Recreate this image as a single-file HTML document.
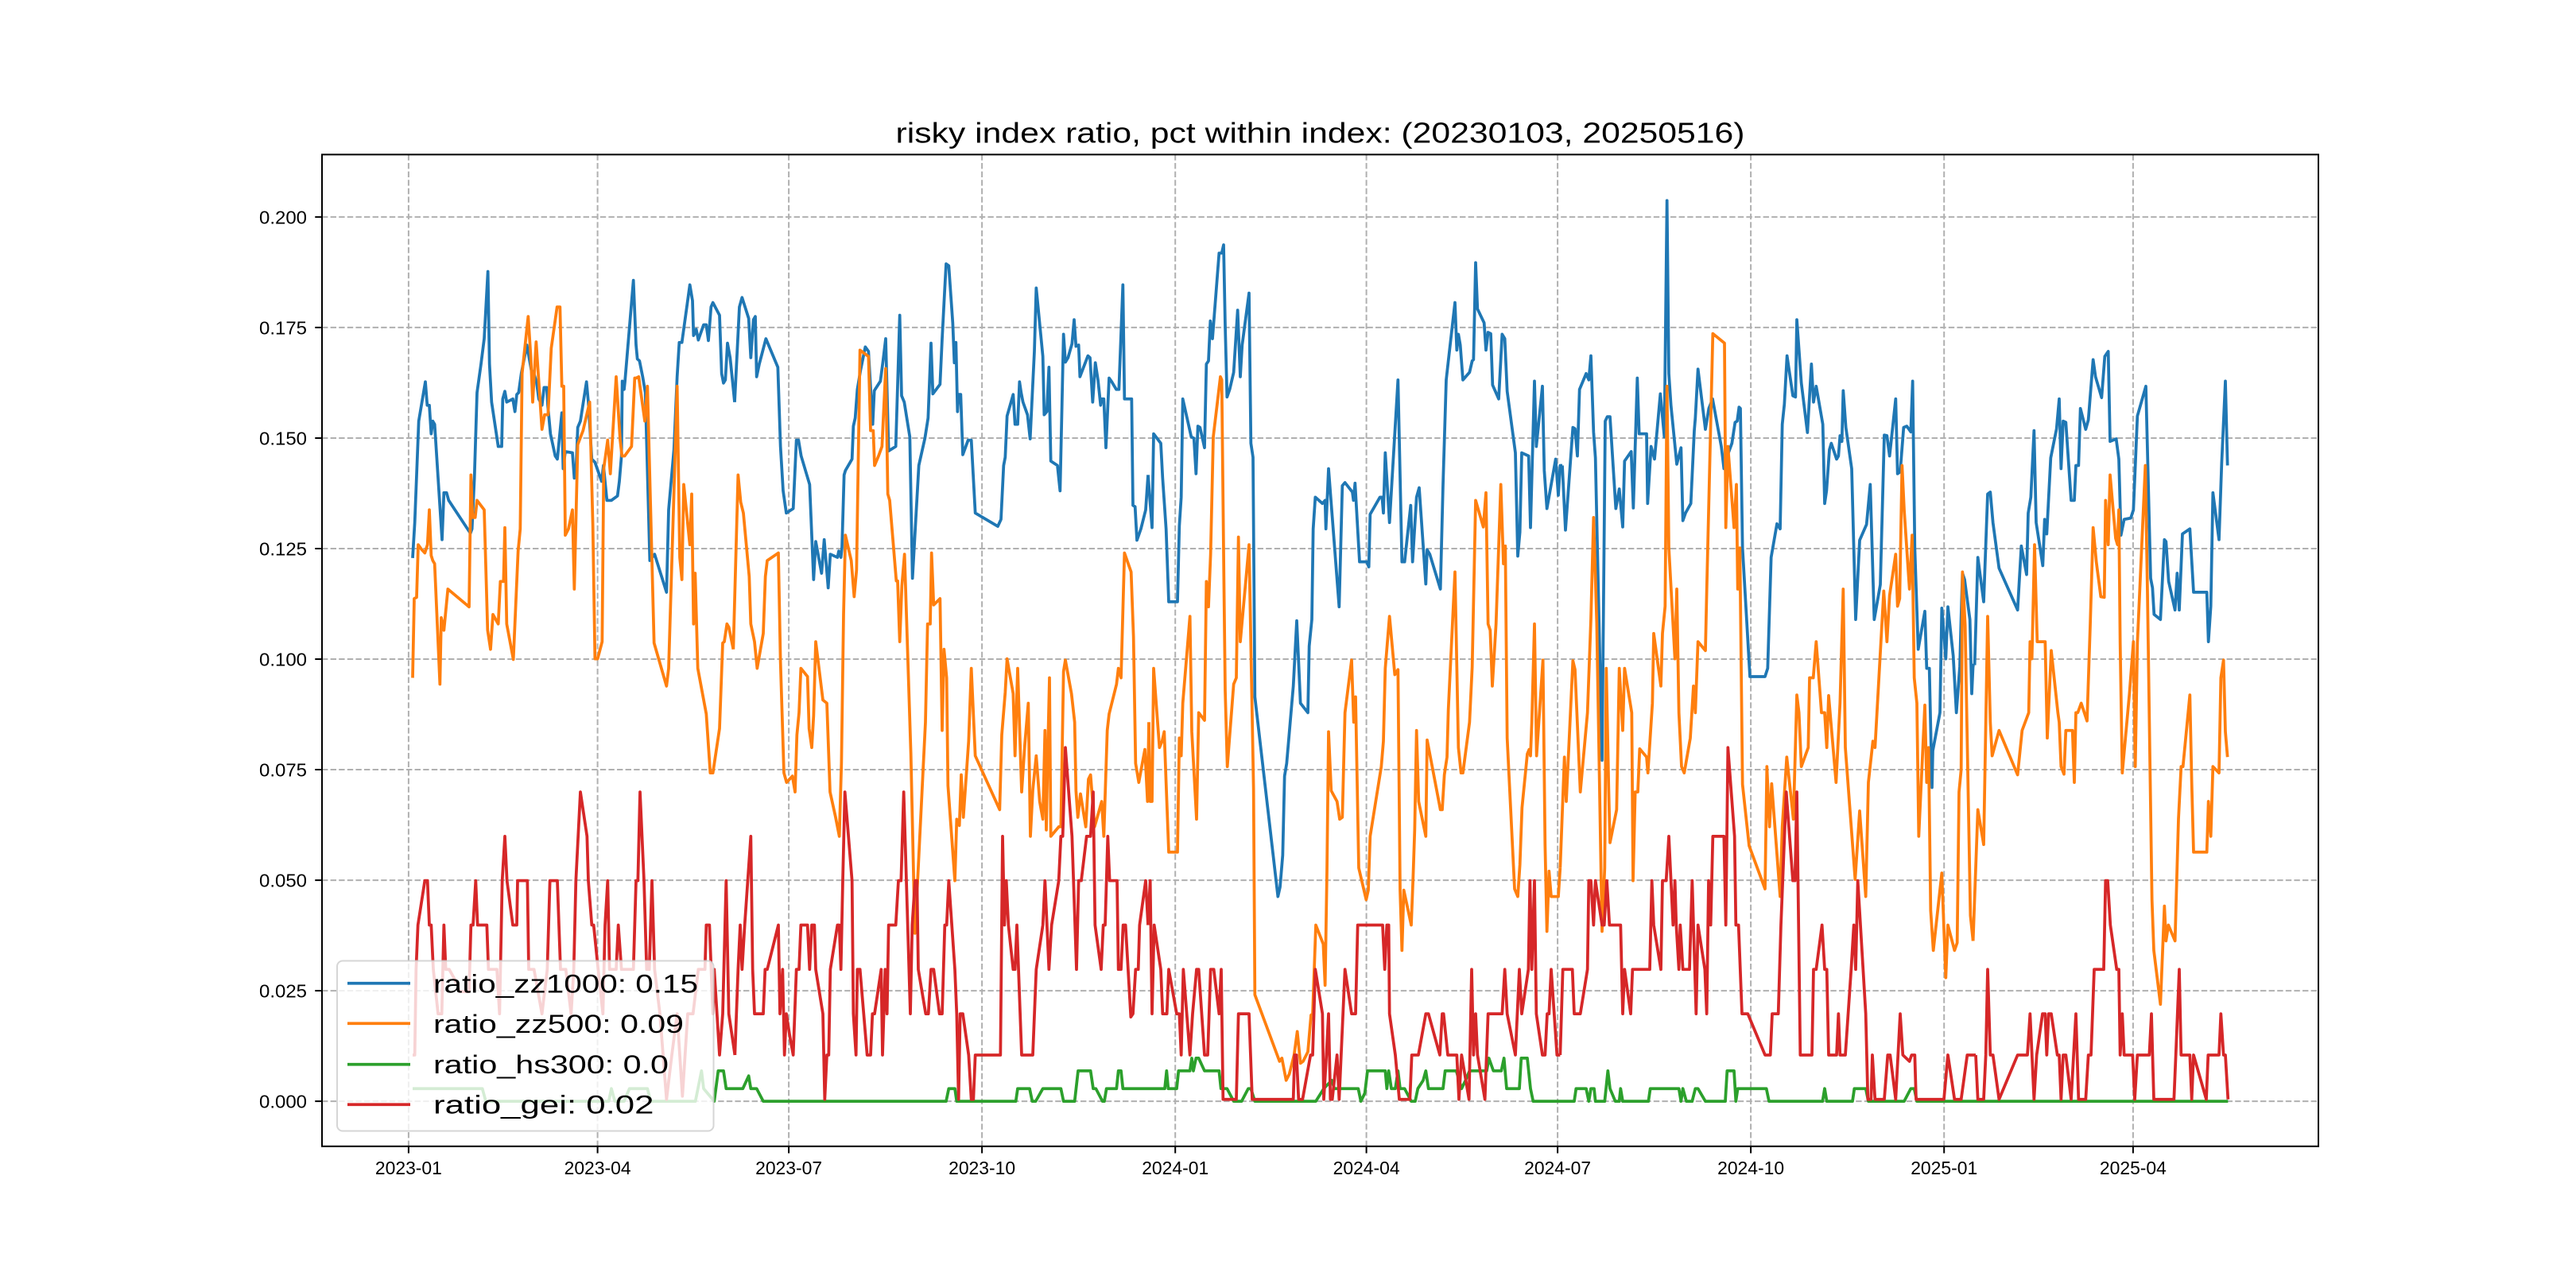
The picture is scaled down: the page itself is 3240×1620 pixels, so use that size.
<!DOCTYPE html>
<html>
<head>
<meta charset="utf-8">
<style>
html,body{margin:0;padding:0;background:#fff;}
svg{display:block;}
.d polyline{vector-effect:non-scaling-stroke;fill:none;stroke-width:3.75;stroke-linejoin:round;stroke-linecap:butt;}
text{font-family:"Liberation Sans","Noto Sans CJK SC",sans-serif;fill:#000;}
</style>
</head>
<body>
<svg width="3240" height="1620" viewBox="0 0 3240 1620" xmlns="http://www.w3.org/2000/svg">
<rect x="0" y="0" width="3240" height="1620" fill="#fff"/>

<!-- grid -->
<g stroke="#b0b0b0" stroke-width="2" stroke-dasharray="7.4 3.2" fill="none">
<line x1="405" y1="1385.1" x2="2916" y2="1385.1"/>
<line x1="405" y1="1246.1" x2="2916" y2="1246.1"/>
<line x1="405" y1="1107.1" x2="2916" y2="1107.1"/>
<line x1="405" y1="968.0" x2="2916" y2="968.0"/>
<line x1="405" y1="829.0" x2="2916" y2="829.0"/>
<line x1="405" y1="690.0" x2="2916" y2="690.0"/>
<line x1="405" y1="551.0" x2="2916" y2="551.0"/>
<line x1="405" y1="411.9" x2="2916" y2="411.9"/>
<line x1="405" y1="272.9" x2="2916" y2="272.9"/>
<line x1="513.9" y1="194.4" x2="513.9" y2="1441.8"/>
<line x1="751.6" y1="194.4" x2="751.6" y2="1441.8"/>
<line x1="992.1" y1="194.4" x2="992.1" y2="1441.8"/>
<line x1="1235.1" y1="194.4" x2="1235.1" y2="1441.8"/>
<line x1="1478.2" y1="194.4" x2="1478.2" y2="1441.8"/>
<line x1="1718.6" y1="194.4" x2="1718.6" y2="1441.8"/>
<line x1="1959.1" y1="194.4" x2="1959.1" y2="1441.8"/>
<line x1="2202.1" y1="194.4" x2="2202.1" y2="1441.8"/>
<line x1="2445.2" y1="194.4" x2="2445.2" y2="1441.8"/>
<line x1="2682.9" y1="194.4" x2="2682.9" y2="1441.8"/>
</g>

<!-- data -->
<g class="d" transform="translate(405 194.8) scale(0.333333 0.79728)">
<!-- blue zz1000 -->
<g stroke="#1f77b4">
<polyline points="342,636 350,580 365,420 390,358 397,395 405,395 412,440 418,420 425,425 453,607 460,533 470,533 478,545 560,597 566,590 575,510 585,375 600,330 612,290 626,184 632,330 640,390 665,460 678,460 682,385 690,373 697,390 720,385 728,405 735,378 742,375 752,345 773,300 790,340 800,345 810,360 818,385 830,395 838,367 848,367 852,395 862,440 880,475 888,480 895,450 905,407 910,495 918,468 945,470 952,510 958,505 965,430 975,420 998,358 1005,390 1018,480 1030,485 1055,515 1062,490 1075,545 1092,545 1115,538 1122,515 1130,475 1133,357 1140,370 1143,358 1175,198 1185,300 1190,322 1198,325 1210,350 1220,375 1237,640 1255,630 1300,690 1308,560 1328,465 1340,350 1348,296 1358,296 1388,205 1398,230 1402,285 1408,280 1412,275 1420,292 1440,268 1450,268 1458,293 1468,240 1475,233 1500,253 1508,345 1515,360 1522,355 1530,297 1540,320 1557,390"/>
<g transform="translate(1560 0)"><polyline points="-3,390 15,240 25,225 50,258 58,320 68,260 75,255 80,350 90,330 115,290 160,335 170,460 180,530 192,565 218,558 230,450 238,450 248,475 280,520 295,670 303,610 325,660 335,607 350,683 358,630 385,635 390,625 398,635 402,620 410,505 415,498 440,480 445,428 452,415 460,370 472,340 490,303 502,310 518,425 524,372 547,357 557,325 567,290 578,467 605,460 620,253 627,380 637,390 658,445 668,668 692,490 715,447 727,415 738,297 745,377 772,362 780,290 790,210 795,172 805,175 820,265 826,328 832,296 838,405 842,378 850,378 858,473 878,450 890,450 905,565 990,586 1002,575 1012,490 1018,477 1025,412 1048,378 1055,425 1065,425 1072,358 1078,375 1085,390 1102,410 1112,448 1128,310 1135,210 1160,318 1165,410 1175,405 1183,335 1190,483 1215,490 1225,530 1238,283 1245,327 1255,320 1270,298 1278,260 1285,302 1295,300 1300,350 1330,317 1338,320 1348,390 1358,328 1368,355 1378,395 1382,385 1390,385 1398,462 1410,352 1420,358 1437,370 1447,370 1462,205 1468,385 1495,385 1500,553 1508,555 1515,608 1530,590 1548,560 1557,505"/></g>
<g transform="translate(3120 0)"><polyline points="-3,505 12,588 18,440 45,455 52,510 65,590 75,705 108,705 115,585 122,540 128,385 160,445 170,447 178,503 185,428 193,430 210,462 217,330 225,325 232,262 240,290 265,155 275,155 282,142 288,270 295,382 305,370 320,343 335,245 345,350 352,300 378,218 385,455 393,477 400,855 487,1170 495,1155 505,1105 512,980 520,960 545,838 558,735 572,865 600,880 605,775 615,733 620,590 628,540 655,550 665,545 668,590 678,495 718,713 730,522 740,517 768,532 772,545 778,518 795,642 822,642 830,650 835,567 872,540 880,540 885,565 892,470 908,580 940,355 955,642 965,642 988,553 995,642 1010,540 1020,525 1045,677 1050,623 1060,630 1100,685 1110,520 1122,355 1130,325 1155,233 1162,308 1168,283 1175,300 1185,355 1210,343 1220,325 1225,323 1233,170 1240,243 1265,265 1272,308 1280,280 1290,282 1297,363 1320,385 1333,283 1343,290 1352,373 1383,470 1392,633 1400,595 1407,470 1433,475 1440,588 1455,357 1462,460 1485,365 1492,498 1502,558 1535,480 1545,537 1552,490 1560,490"/></g>
<g transform="translate(4680 0)"><polyline points="0,490 12,592 40,430 48,432 57,475 65,370 90,345 100,355 108,317 118,437 125,478 150,955 162,420 170,413 180,413 202,558 215,527 228,587 235,483 260,468 268,557 283,352 290,440 318,440 322,550 335,460 348,480 370,377 385,445 395,72 402,345 410,395 432,488 448,462 455,577 465,565 485,550 498,435 502,415 512,338 540,433 553,400 567,385 600,460 610,495 620,478 640,455 652,422 660,420 667,398 672,400 680,620 708,823 765,823 775,810 788,635 810,582 822,590 830,425 838,393 848,317 870,380 880,382 885,260 902,360 925,438 940,330 948,390 958,365 983,425 990,550 997,530 1008,465 1015,455 1035,480 1042,475 1048,443 1055,452 1060,372 1070,430 1092,495 1107,733 1122,608 1148,583 1162,520 1177,733 1200,678 1215,442 1225,443 1235,475 1258,385 1265,503 1275,500 1288,430 1300,428 1315,437 1322,357 1330,620 1343,780 1368,720 1375,810 1385,810 1395,998 1398,940 1425,880 1432,715 1440,755 1447,795 1455,713 1475,790 1487,880 1500,807 1505,730 1510,660 1518,670 1538,733 1545,850 1550,805 1556,805"/></g>
<g transform="translate(6240 0)"><polyline points="-4,805 8,635 30,705 45,535 55,532 65,580 88,652 158,718 172,617 192,662 198,565 208,540 220,435 228,580 253,648 260,575 268,598 283,478 305,432 315,385 322,495 330,420 340,422 360,545 372,545 378,490 388,490 395,400 415,433 425,418 443,323 452,350 475,383 487,318 500,310 507,452 530,448 540,480 548,600 560,575 585,573 595,560 610,412 642,365 660,668 667,683 673,725 697,733 712,607 718,610 728,673 752,718 760,660 768,718 780,598 808,590 822,690 872,690 878,768 887,712 895,533 918,607 928,487 942,357 950,490"/></g>
</g>

<!-- orange zz500 -->
<g stroke="#ff7f0e">
<polyline points="342,825 348,700 357,698 363,615 375,622 388,628 398,615 405,560 412,632 418,640 425,645 445,835 450,730 460,750 475,685 555,713 562,505 568,572 578,572 585,545 612,560 625,750 636,780 645,725 665,740 673,673 685,673 690,588 697,740 722,796 740,625 748,590 755,345 778,255 788,320 795,390 808,295 830,433 840,410 853,410 865,305 887,240 898,240 905,365 912,365 918,600 930,590 945,560 952,685 965,457 985,435 1010,390 1022,585 1030,795 1040,795 1057,768 1063,495 1078,450 1088,503 1110,350 1125,450 1132,475 1142,475 1168,460 1180,352 1186,352 1195,350 1218,420 1228,365 1253,770 1300,838 1308,810 1340,365 1350,635 1358,670 1365,520 1388,615 1395,535 1402,740 1408,660 1418,810 1450,882 1465,975 1475,975 1500,905 1512,770 1518,768 1528,740 1535,745 1552,780"/>
<g transform="translate(1560 0)"><polyline points="-8,780 10,505 20,548 30,565 52,665 58,740 72,768 82,810 105,755 113,665 120,640 162,628 170,800 183,975 193,990 215,980 225,1005 232,915 240,880 247,810 272,823 278,905 288,935 295,885 303,768 330,860 345,865 357,1005 378,1045 392,1075 400,960 408,725 415,600 437,640 448,697 457,655 470,308 502,318 510,435 520,435 525,490 540,475 553,460 567,337 575,535 582,545 607,672 612,672 620,768 628,680 638,630 662,945 677,1228 688,1140 717,895 725,740 735,740 740,628 748,710 772,700 780,908 787,780 797,825 802,995 828,1145 835,1048 845,1058 852,978 860,1045 880,925 890,810 905,948 997,1033 1005,915 1018,848 1025,795 1048,850 1055,948 1065,810 1080,1005 1092,930 1105,865 1113,1075 1122,1002 1135,948 1148,1020 1160,1048 1168,908 1173,1065 1178,955 1185,825 1190,1075 1220,1060 1228,1060 1238,815 1245,797 1268,850 1280,895 1285,1003 1292,1045 1302,1008 1322,1060 1332,985 1340,978 1355,1060 1362,1050 1382,1020 1390,1075 1403,908 1410,882 1438,835 1445,810 1455,825 1468,628 1493,658 1502,760 1510,960 1522,990 1545,938 1555,1020 1560,895"/></g>
<g transform="translate(3120 0)"><polyline points="0,895 5,1020 12,1020 18,810 40,935 50,925 58,910 65,990 75,1100 108,1100 115,920 122,948 128,865 155,728 162,910 180,1048 188,880 210,892 217,673 225,713 233,630 243,445 270,350 275,355 283,665 288,845 296,965 320,835 330,825 338,603 345,768 378,615 387,820 395,1000 400,1325 493,1430 502,1425 518,1460 530,1450 548,1420 560,1383 572,1433 582,1430 600,1415 612,1357 618,1355 630,1215 658,1245 665,1310 672,1130 678,910 688,1003 710,1020 720,1048 730,1045 740,880 765,797 773,895 780,855 792,1125 820,1175 828,1160 835,1075 877,965 885,925 892,810 908,728 928,820 940,812 948,1160 955,1255 962,1160 990,1215 997,1140 1003,1065 1010,908 1018,1020 1045,1075 1050,923 1100,1033 1107,1033 1115,978 1125,950 1130,875 1155,658 1168,935 1178,975 1185,975 1210,895 1220,808 1233,545 1262,587 1272,533 1280,740 1288,750 1296,838 1310,740 1328,520 1338,645 1345,617 1352,920 1380,1158 1392,1170 1400,1120 1408,1030 1428,945 1435,938 1440,948 1445,895 1455,740 1463,948 1487,797 1495,1088 1502,1225 1510,1130 1518,1170 1545,1170 1552,1125"/></g>
<g transform="translate(4680 0)"><polyline points="-8,1125 8,950 15,1020 40,798 48,812 68,1005 95,880 108,732 118,572 130,738 150,1225 160,1125 166,810 175,1000 180,1085 205,1033 215,810 228,908 235,810 262,880 267,1145 275,1005 285,1005 292,937 318,950 323,975 340,865 345,755 372,838 378,755 388,712 395,365 402,620 425,795 432,685 440,880 450,965 460,975 483,920 495,838 502,880 512,768 540,782 545,688 568,282 612,297 617,588 625,460 648,588 657,520 662,685 668,685 670,620 680,993 705,1090 765,1158 772,965 782,1060 790,992 822,1170 830,1060 847,950 872,1048 885,852 893,880 902,965 928,935 933,825 947,825 958,768 978,880 990,880 998,935 1005,853 1033,990 1048,865 1060,685 1068,935 1105,1143 1122,1035 1145,1170 1155,990 1172,925 1180,935 1213,688 1225,768 1235,695 1258,630 1265,712 1273,700 1282,490 1290,560 1310,685 1320,600 1328,825 1338,865 1345,1075 1368,868 1375,990 1382,935 1390,1192 1400,1255 1432,1133 1447,1298 1455,1215 1480,1255 1490,1243 1497,1005 1505,970 1510,658 1520,742 1540,1200 1550,1240"/></g>
<g transform="translate(6240 0)"><polyline points="-10,1240 8,1033 30,1088 45,728 55,895 62,948 88,908 158,978 175,908 200,880 205,768 212,795 222,615 232,768 262,768 270,920 285,782 310,880 315,895 322,965 333,977 340,908 365,908 372,990 378,880 385,880 398,865 420,893 432,742 443,588 455,642 472,697 485,698 490,545 500,615 507,505 528,605 535,615 540,560 545,770 553,975 580,850 595,768 602,965 610,770 640,490 648,690 665,1175 672,1255 697,1340 712,1185 718,1240 727,1215 752,1240 765,1048 775,965 782,965 808,852 815,990 822,1100 872,1100 878,1020 887,1075 895,965 918,975 925,825 935,797 942,910 950,950"/></g>
</g>

<!-- green hs300 -->
<g stroke="#2ca02c">
<polyline points="342,1473 605,1473 618,1493 1082,1493 1092,1473 1105,1493 1140,1493 1160,1473 1228,1473 1240,1493 1409,1493 1432,1445 1440,1473 1480,1493 1495,1445 1515,1445 1525,1473 1560,1473"/>
<g transform="translate(1560 0)"><polyline points="0,1473 28,1473 50,1453 58,1473 80,1473 105,1493 795,1493 805,1473 828,1473 835,1493 1058,1493 1065,1473 1110,1473 1120,1493 1133,1493 1160,1473 1228,1473 1238,1493 1280,1493 1293,1445 1340,1445 1350,1473 1360,1473 1385,1493 1392,1493 1400,1473 1438,1473 1445,1445 1455,1445 1462,1473 1560,1473"/></g>
<g transform="translate(3120 0)"><polyline points="0,1473 60,1473 67,1445 73,1473 105,1473 112,1445 155,1445 162,1425 168,1445 178,1425 188,1425 210,1445 265,1445 272,1473 295,1473 320,1493 350,1493 375,1473 385,1473 400,1493 630,1493 660,1473 690,1460 700,1473 790,1473 800,1493 815,1480 825,1445 892,1445 898,1473 905,1445 915,1473 930,1473 940,1445 948,1473 965,1473 990,1493 1005,1493 1015,1473 1035,1460 1045,1445 1055,1473 1110,1473 1118,1445 1160,1445 1180,1473 1195,1460 1210,1445 1275,1445 1283,1425 1300,1445 1330,1445 1340,1425 1350,1473 1398,1473 1405,1425 1428,1425 1440,1473 1450,1493 1560,1493"/></g>
<g transform="translate(4680 0)"><polyline points="0,1493 45,1493 52,1473 90,1473 100,1493 108,1473 120,1473 125,1493 160,1493 172,1445 180,1473 200,1493 215,1493 220,1473 228,1493 325,1493 332,1473 440,1473 448,1493 455,1473 468,1493 490,1493 502,1473 512,1473 540,1493 615,1493 622,1445 648,1445 655,1493 662,1473 770,1473 780,1493 982,1493 990,1473 998,1493 1095,1493 1102,1473 1145,1473 1155,1493 1290,1493 1315,1473 1328,1473 1338,1493 1560,1493"/></g>
<g transform="translate(6240 0)"><polyline points="0,1493 952,1493"/></g>
</g>

<!-- red gei -->
<g stroke="#d62728">
<polyline points="342,1420 350,1420 355,1285 362,1215 388,1145 398,1145 405,1215 412,1215 420,1285 438,1355 452,1355 460,1215 467,1285 480,1285 500,1300 520,1320 555,1320 562,1215 570,1215 580,1145 587,1215 622,1215 628,1285 660,1285 670,1355 680,1145 690,1075 698,1145 720,1215 735,1215 738,1145 775,1145 780,1285 800,1285 830,1355 850,1285 860,1145 888,1145 900,1285 920,1285 940,1355 950,1285 958,1145 975,1005 1000,1075 1005,1145 1018,1215 1025,1215 1042,1285 1060,1355 1068,1215 1078,1145 1085,1285 1110,1285 1118,1215 1130,1285 1175,1285 1185,1145 1192,1145 1200,1005 1215,1145 1225,1285 1235,1285 1245,1145 1255,1285 1275,1355 1300,1490 1320,1420 1340,1355 1360,1485 1380,1355 1400,1355 1420,1285 1445,1285 1450,1215 1462,1215 1475,1355 1480,1285 1500,1420 1512,1355 1525,1145 1535,1355 1558,1420"/>
<g transform="translate(1560 0)"><polyline points="-2,1420 10,1285 18,1215 25,1285 35,1215 58,1075 65,1285 72,1355 105,1355 112,1285 120,1285 162,1215 168,1355 178,1285 185,1420 192,1355 205,1390 218,1420 230,1285 240,1285 247,1215 272,1215 280,1285 288,1215 298,1215 303,1285 330,1355 337,1490 345,1420 352,1420 358,1285 385,1215 392,1215 398,1285 405,1145 413,1005 440,1145 445,1355 455,1420 460,1285 470,1285 497,1420 510,1420 517,1355 525,1355 550,1285 555,1420 565,1285 572,1355 578,1215 605,1215 615,1145 625,1145 635,1005 660,1355 667,1215 678,1145 685,1145 690,1285 718,1355 728,1355 738,1285 748,1285 770,1355 780,1355 790,1215 797,1215 805,1145 828,1285 835,1355 842,1490 848,1355 858,1355 880,1420 890,1490 898,1490 905,1420 1000,1420 1008,1075 1015,1215 1022,1145 1030,1215 1048,1285 1055,1285 1062,1215 1080,1420 1122,1420 1135,1285 1160,1215 1168,1145 1183,1285 1193,1215 1220,1145 1228,1075 1235,1075 1245,935 1270,1075 1287,1285 1295,1145 1305,1145 1325,1075 1340,1075 1350,1005 1357,1215 1380,1285 1388,1215 1395,1215 1405,1075 1412,1145 1440,1145 1445,1285 1455,1285 1463,1215 1472,1215 1492,1360 1500,1355 1510,1285 1520,1285 1525,1215 1548,1145 1557,1215"/></g>
<g transform="translate(3120 0)"><polyline points="-3,1215 5,1145 12,1355 20,1215 45,1285 52,1355 68,1355 75,1285 105,1355 115,1355 122,1420 130,1285 155,1420 165,1355 180,1285 188,1285 210,1420 222,1420 233,1285 245,1285 265,1355 273,1285 280,1490 330,1490 338,1355 378,1355 390,1490 545,1490 550,1420 557,1420 565,1490 580,1490 610,1420 618,1420 628,1285 655,1355 660,1490 670,1420 678,1355 685,1490 692,1490 710,1420 718,1490 740,1285 765,1355 780,1355 788,1215 882,1215 890,1285 898,1215 905,1215 908,1355 930,1420 945,1490 985,1490 992,1420 1017,1420 1045,1355 1055,1355 1098,1420 1107,1355 1112,1355 1128,1420 1162,1420 1170,1490 1180,1420 1208,1490 1218,1285 1225,1420 1233,1355 1240,1420 1268,1490 1280,1355 1333,1355 1343,1285 1352,1355 1383,1420 1398,1285 1407,1355 1432,1285 1438,1145 1445,1285 1455,1145 1462,1355 1485,1420 1495,1420 1503,1355 1510,1355 1518,1285 1540,1420 1552,1420"/></g>
<g transform="translate(4680 0)"><polyline points="-8,1420 2,1285 38,1285 45,1355 68,1355 95,1285 100,1145 108,1145 118,1215 125,1145 150,1215 158,1215 168,1145 178,1215 220,1215 228,1355 235,1285 258,1355 265,1285 330,1285 338,1145 345,1215 372,1285 378,1145 392,1145 402,1075 418,1215 425,1145 430,1215 440,1285 445,1215 455,1285 480,1285 490,1145 505,1355 512,1215 538,1285 545,1355 552,1145 560,1215 568,1075 610,1075 617,1215 625,935 650,1075 655,1215 665,1215 678,1355 700,1355 765,1420 785,1420 792,1355 815,1355 825,1215 845,1005 870,1145 878,1145 885,1005 898,1420 942,1420 948,1285 958,1285 980,1215 990,1285 998,1285 1005,1420 1035,1420 1042,1355 1048,1420 1068,1420 1090,1285 1100,1215 1107,1285 1115,1145 1145,1355 1153,1490 1165,1490 1170,1420 1180,1490 1215,1490 1228,1420 1237,1420 1258,1490 1275,1355 1285,1420 1310,1430 1318,1420 1330,1420 1335,1490 1440,1490 1455,1420 1480,1490 1505,1490 1528,1420 1560,1420"/></g>
<g transform="translate(6240 0)"><polyline points="0,1420 8,1490 30,1490 38,1420 45,1285 55,1420 65,1420 88,1490 158,1420 195,1420 205,1355 220,1490 230,1420 252,1355 262,1355 268,1420 275,1355 285,1355 308,1420 315,1420 322,1490 330,1420 340,1420 360,1490 378,1355 388,1490 415,1490 425,1420 435,1420 447,1285 483,1285 490,1145 498,1145 508,1215 532,1285 540,1285 545,1420 553,1355 560,1420 592,1420 600,1490 610,1420 655,1420 663,1355 672,1490 748,1490 755,1420 768,1285 775,1420 808,1420 815,1490 822,1420 870,1490 877,1420 918,1420 925,1355 935,1420 942,1420 952,1490"/></g>
</g>
</g>

<!-- spines -->
<rect x="405" y="194.4" width="2511" height="1247.4" fill="none" stroke="#000" stroke-width="2"/>

<!-- ticks -->
<g stroke="#000" stroke-width="2">
<line x1="396.25" y1="1385.1" x2="405" y2="1385.1"/>
<line x1="396.25" y1="1246.1" x2="405" y2="1246.1"/>
<line x1="396.25" y1="1107.1" x2="405" y2="1107.1"/>
<line x1="396.25" y1="968.0" x2="405" y2="968.0"/>
<line x1="396.25" y1="829.0" x2="405" y2="829.0"/>
<line x1="396.25" y1="690.0" x2="405" y2="690.0"/>
<line x1="396.25" y1="551.0" x2="405" y2="551.0"/>
<line x1="396.25" y1="411.9" x2="405" y2="411.9"/>
<line x1="396.25" y1="272.9" x2="405" y2="272.9"/>
<line x1="513.9" y1="1441.8" x2="513.9" y2="1450.5"/>
<line x1="751.6" y1="1441.8" x2="751.6" y2="1450.5"/>
<line x1="992.1" y1="1441.8" x2="992.1" y2="1450.5"/>
<line x1="1235.1" y1="1441.8" x2="1235.1" y2="1450.5"/>
<line x1="1478.2" y1="1441.8" x2="1478.2" y2="1450.5"/>
<line x1="1718.6" y1="1441.8" x2="1718.6" y2="1450.5"/>
<line x1="1959.1" y1="1441.8" x2="1959.1" y2="1450.5"/>
<line x1="2202.1" y1="1441.8" x2="2202.1" y2="1450.5"/>
<line x1="2445.2" y1="1441.8" x2="2445.2" y2="1450.5"/>
<line x1="2682.9" y1="1441.8" x2="2682.9" y2="1450.5"/>
</g>

<!-- y tick labels -->
<g font-size="23" text-anchor="end">
<text x="386" y="1393.5" textLength="60" lengthAdjust="spacingAndGlyphs">0.000</text>
<text x="386" y="1254.5" textLength="60" lengthAdjust="spacingAndGlyphs">0.025</text>
<text x="386" y="1115.5" textLength="60" lengthAdjust="spacingAndGlyphs">0.050</text>
<text x="386" y="976.4" textLength="60" lengthAdjust="spacingAndGlyphs">0.075</text>
<text x="386" y="837.4" textLength="60" lengthAdjust="spacingAndGlyphs">0.100</text>
<text x="386" y="698.4" textLength="60" lengthAdjust="spacingAndGlyphs">0.125</text>
<text x="386" y="559.4" textLength="60" lengthAdjust="spacingAndGlyphs">0.150</text>
<text x="386" y="420.3" textLength="60" lengthAdjust="spacingAndGlyphs">0.175</text>
<text x="386" y="281.3" textLength="60" lengthAdjust="spacingAndGlyphs">0.200</text>
</g>

<!-- x tick labels -->
<g font-size="23" text-anchor="middle">
<text x="513.9" y="1477" textLength="84" lengthAdjust="spacingAndGlyphs">2023-01</text>
<text x="751.6" y="1477" textLength="84" lengthAdjust="spacingAndGlyphs">2023-04</text>
<text x="992.1" y="1477" textLength="84" lengthAdjust="spacingAndGlyphs">2023-07</text>
<text x="1235.1" y="1477" textLength="84" lengthAdjust="spacingAndGlyphs">2023-10</text>
<text x="1478.2" y="1477" textLength="84" lengthAdjust="spacingAndGlyphs">2024-01</text>
<text x="1718.6" y="1477" textLength="84" lengthAdjust="spacingAndGlyphs">2024-04</text>
<text x="1959.1" y="1477" textLength="84" lengthAdjust="spacingAndGlyphs">2024-07</text>
<text x="2202.1" y="1477" textLength="84" lengthAdjust="spacingAndGlyphs">2024-10</text>
<text x="2445.2" y="1477" textLength="84" lengthAdjust="spacingAndGlyphs">2025-01</text>
<text x="2682.9" y="1477" textLength="84" lengthAdjust="spacingAndGlyphs">2025-04</text>
</g>

<!-- title -->
<text x="1660.5" y="179.5" font-size="36" text-anchor="middle" textLength="1068" lengthAdjust="spacingAndGlyphs">risky index ratio, pct within index: (20230103, 20250516)</text>

<!-- legend -->
<rect x="424" y="1208.5" width="473.5" height="214" rx="7" ry="7" fill="#ffffff" fill-opacity="0.8" stroke="#cccccc" stroke-opacity="0.8" stroke-width="2"/>
<g stroke-width="3.75">
<line x1="437" y1="1236.7" x2="516" y2="1236.7" stroke="#1f77b4"/>
<line x1="437" y1="1287.3" x2="516" y2="1287.3" stroke="#ff7f0e"/>
<line x1="437" y1="1338.7" x2="516" y2="1338.7" stroke="#2ca02c"/>
<line x1="437" y1="1389.3" x2="516" y2="1389.3" stroke="#d62728"/>
</g>
<g font-size="32.5">
<text x="545" y="1248.3" textLength="333" lengthAdjust="spacingAndGlyphs">ratio_zz1000: 0.15</text>
<text x="545" y="1299" textLength="315" lengthAdjust="spacingAndGlyphs">ratio_zz500: 0.09</text>
<text x="545" y="1350" textLength="296" lengthAdjust="spacingAndGlyphs">ratio_hs300: 0.0</text>
<text x="545" y="1400.7" textLength="277.5" lengthAdjust="spacingAndGlyphs">ratio_gei: 0.02</text>
</g>
</svg>
</body>
</html>
